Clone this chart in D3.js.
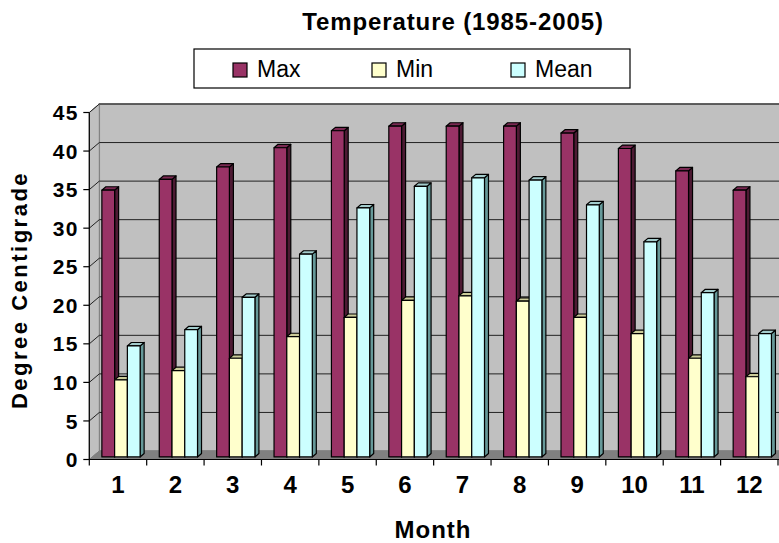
<!DOCTYPE html>
<html>
<head>
<meta charset="utf-8">
<script src="https://cdn.jsdelivr.net/npm/d3@7"></script>
<style>
  html, body { margin: 0; padding: 0; background: #fff; }
  svg { display: block; }
  text { font-family: "Liberation Sans", Arial, sans-serif; fill: #000; }
</style>
</head>
<body>
<div id="chart"></div>
<script>
// ---- Data ----
const months = ["1","2","3","4","5","6","7","8","9","10","11","12"];
const seriesNames = ["Max","Min","Mean"];
const maxTemp  = [34.6, 36.0, 37.6, 40.1, 42.3, 42.9, 42.9, 42.9, 42.0, 40.0, 37.1, 34.6];
const minTemp  = [10.0, 11.2, 12.8, 15.6, 18.1, 20.3, 20.9, 20.2, 18.1, 16.0, 12.8, 10.4];
const meanTemp = [14.4, 16.5, 20.7, 26.3, 32.3, 35.1, 36.2, 35.9, 32.7, 27.9, 21.3, 16.0];
const yTicks = [0, 5, 10, 15, 20, 25, 30, 35, 40, 45];
const titleText = "Temperature (1985-2005)";
const xTitle = "Month";
const yTitle = "Degree Centigrade";

// ---- Styles ----
const colors = {
  Max:  {front: "#993366", top: "#7a2952", side: "#4d1a33"},
  Min:  {front: "#FFFFCC", top: "#cccc99", side: "#999973"},
  Mean: {front: "#CCFFFF", top: "#a3cccc", side: "#669999"}
};

const W = 779, H = 543;
const X0 = 89.3, X1 = 778, Y0 = 459.5, YTOP = 112.5;
const DX = 10, DY = 8.5;      // depth offset of back wall
const ZF = 0.3, ZB = 0.7;     // bar depth span

const svg = d3.select("#chart").append("svg").attr("width", W).attr("height", H);

const x = d3.scaleBand().domain(months).range([X0, X1]).paddingInner(1/3).paddingOuter(1/6);
const xCat = d3.scaleBand().domain(months).range([X0, X1]);
const xs = d3.scaleBand().domain(seriesNames).range([0, x.bandwidth()]);
const y = d3.scaleLinear().domain([0, 45]).range([Y0, YTOP]);
const P = (xw, v, z) => [xw + z * DX, y(v) - z * DY];
const poly = pts => "M" + pts.map(p => p[0].toFixed(2) + "," + p[1].toFixed(2)).join("L") + "Z";

// ---- Walls ----
const backRight = X1 + DX;
svg.append("path")
  .attr("d", poly([P(X0, 45, 1), [backRight + 5, y(45) - DY], [backRight + 5, y(0) - DY], P(X0, 0, 1)]))
  .attr("fill", "#C0C0C0").attr("stroke", "#808080").attr("stroke-width", 1.5);
svg.append("path")
  .attr("d", poly([P(X0, 0, 0), P(X0, 45, 0), P(X0, 45, 1), P(X0, 0, 1)]))
  .attr("fill", "#C0C0C0").attr("stroke", "#808080").attr("stroke-width", 1);

// gridlines on back wall + side wall
yTicks.forEach(t => {
  if (t === 0) return;
  svg.append("line")
    .attr("x1", P(X0, t, 1)[0]).attr("y1", P(X0, t, 1)[1])
    .attr("x2", backRight + 5).attr("y2", P(X0, t, 1)[1])
    .attr("stroke", "#222").attr("stroke-width", 1);
  svg.append("line")
    .attr("x1", P(X0, t, 0)[0]).attr("y1", P(X0, t, 0)[1])
    .attr("x2", P(X0, t, 1)[0]).attr("y2", P(X0, t, 1)[1])
    .attr("stroke", "#222").attr("stroke-width", 1);
});

// floor
svg.append("path")
  .attr("d", poly([P(X0, 0, 0), P(X0, 0, 1), [backRight + 5, y(0) - DY], [X1 + 5, y(0)]]))
  .attr("fill", "#808080").attr("stroke", "#808080").attr("stroke-width", 1);

// ---- Bars ----
const seriesData = {Max: maxTemp, Min: minTemp, Mean: meanTemp};
const barsG = svg.append("g").attr("stroke", "#000").attr("stroke-width", 1.2).attr("stroke-linejoin", "round");
months.forEach((m, i) => {
  seriesNames.forEach(s => {
    const v = seriesData[s][i];
    const xl = x(m) + xs(s), xr = xl + xs.bandwidth();
    const c = colors[s];
    barsG.append("path").attr("fill", c.side)
      .attr("d", poly([P(xr, v, ZF), P(xr, v, ZB), P(xr, 0, ZB), P(xr, 0, ZF)]));
    barsG.append("path").attr("fill", c.top)
      .attr("d", poly([P(xl, v, ZF), P(xl, v, ZB), P(xr, v, ZB), P(xr, v, ZF)]));
    barsG.append("path").attr("fill", c.front)
      .attr("d", poly([P(xl, v, ZF), P(xr, v, ZF), P(xr, 0, ZF), P(xl, 0, ZF)]));
  });
});

// ---- Axes ----
svg.append("line").attr("x1", X0).attr("y1", y(0)).attr("x2", X0).attr("y2", y(45))
  .attr("stroke", "#000").attr("stroke-width", 1.2);
svg.append("line").attr("x1", X0).attr("y1", y(0)).attr("x2", X1 + 5).attr("y2", y(0))
  .attr("stroke", "#000").attr("stroke-width", 1.2);

// y ticks
yTicks.forEach(t => {
  svg.append("line").attr("x1", X0 - 6).attr("x2", X0).attr("y1", y(t)).attr("y2", y(t))
    .attr("stroke", "#000").attr("stroke-width", 1.2);
  svg.append("text").attr("x", 79).attr("y", y(t)).attr("dy", "0.36em")
    .attr("text-anchor", "end").attr("font-size", 21).attr("font-weight", "bold")
    .attr("letter-spacing", 1.5).text(t);
});

// x ticks
const xBounds = months.map(m => xCat(m)).concat([xCat(months[months.length - 1]) + xCat.bandwidth()]);
xBounds.forEach(b => {
  svg.append("line").attr("x1", b).attr("x2", b).attr("y1", y(0)).attr("y2", y(0) + 6)
    .attr("stroke", "#000").attr("stroke-width", 1.2);
});
months.forEach(m => {
  svg.append("text").attr("x", xCat(m) + xCat.bandwidth() / 2).attr("y", 493)
    .attr("text-anchor", "middle").attr("font-size", 24).attr("font-weight", "bold")
    .text(m);
});

// ---- Titles ----
svg.append("text").attr("x", 453).attr("y", 30).attr("text-anchor", "middle")
  .attr("font-size", 24).attr("font-weight", "bold").attr("letter-spacing", 0.9).text(titleText);
svg.append("text").attr("x", 433).attr("y", 538).attr("text-anchor", "middle")
  .attr("font-size", 24).attr("font-weight", "bold").attr("letter-spacing", 1).text(xTitle);
svg.append("text").attr("transform", "translate(27,290) rotate(-90)").attr("text-anchor", "middle")
  .attr("font-size", 22).attr("font-weight", "bold").attr("letter-spacing", 2.5).text(yTitle);

// ---- Legend ----
const lg = svg.append("g");
lg.append("rect").attr("x", 194).attr("y", 49).attr("width", 436).attr("height", 39)
  .attr("fill", "#fff").attr("stroke", "#000").attr("stroke-width", 1.2);
const legendX = d3.scalePoint().domain(seriesNames).range([233, 511]);
seriesNames.forEach(s => {
  const lx = legendX(s);
  lg.append("rect").attr("x", lx).attr("y", 63).attr("width", 14).attr("height", 14)
    .attr("fill", colors[s].front).attr("stroke", "#000").attr("stroke-width", 1.2);
  lg.append("text").attr("x", lx + 24).attr("y", 77).attr("font-size", 23).text(s);
});
</script>
</body>
</html>
